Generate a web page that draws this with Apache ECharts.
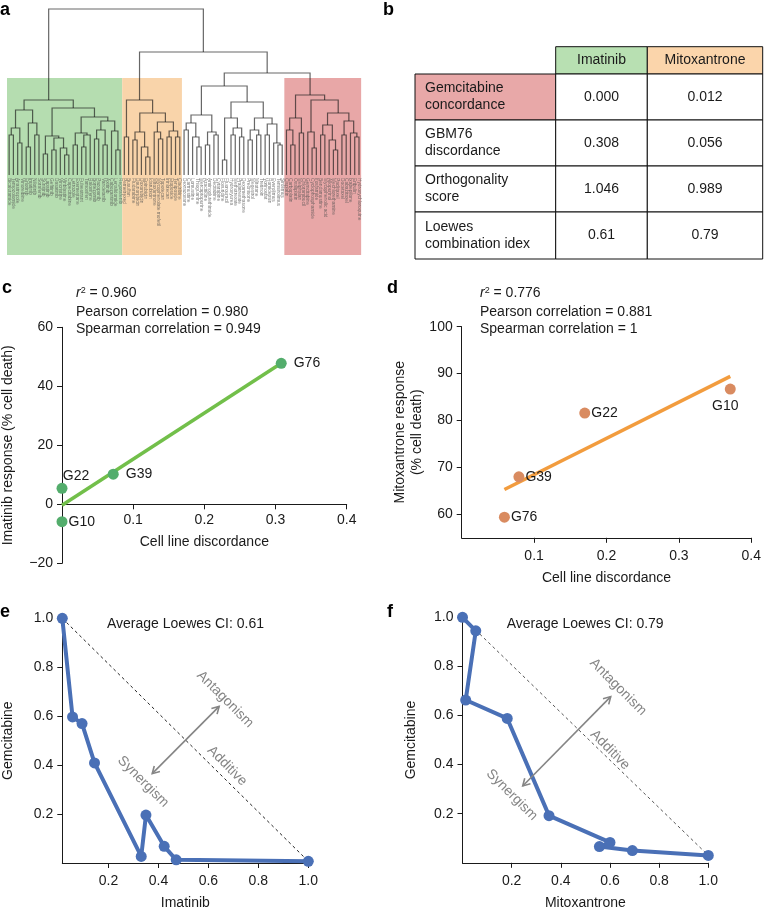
<!DOCTYPE html>
<html><head><meta charset="utf-8">
<script src="https://cdn.jsdelivr.net/npm/echarts@6/dist/echarts.min.js"></script>
<style>html,body{margin:0;padding:0;background:#fff}#main{width:764px;height:911px}</style>
</head><body><div id="main"></div>
<script>
// ================= DATA =================
// Panel a: dendrogram (node = [height, left, right], leaf = _)
const _ = null;
const clusterGreen = [75,
  [65, [47, [40,_,_], [32,_,_]], [52, [28,_,_], [40,_,_]]],
  [67, [39, [21,_,_], [37, [25,_,_], [27,_,[20,_,_]]]],
       [58, [42, [30,_,_], [40,[28,_,_],_]], [54, [45,[36,_,_],[30,_,_]], [44,_,[25,_,_]]]]]];
const clusterOrange = [75, [38,_,_], [62, [43, [35,_,_], [28,_,[18,_,_]]], [53, [43,_,[36,_,_]], [44,[38,_,_],[38,_,_]]]]];
const clusterWhite = [89,
  [60, [52, [45,_,_], [38,_,[28,_,_]]], [43, [30,_,_], [40,_,_]]],
  [73, [57, [15,_,_], [47,[40,_,_],[38,_,_]]], [57, [45,[35,_,_],[40,_,_]], [51,[40,_,_],[32,_,[30,_,_]]]]]];
const clusterRed = [80,
  [57, [45,_,[30,_,_]], [42,_,_]],
  [75, [43,_,[27,_,_]], [62, [50,[40,_,_],[35,_,[25,_,_]]], [54,[40,_,_],[42,_,[38,_,_]]]]]];
const rootHeight = 166, upperHeight = 123, middleHeight = 102;
const namesGreen = ["Bicalutamide","Temozolomide","Anastrozole","Vinorelbine","Erlotinib","Imatinib","Nilotinib","Sorafenib","Sunitinib","Lapatinib","Gefitinib","Dasatinib","Vincristine","Vinblastine","Capecitabine","Letrozole","Exemestane","Fulvestrant","Tamoxifen","Raloxifene","Bortezomib","Pazopanib","Vandetanib","Axitinib","Cabozantinib","Lenalidomide","Regorafenib"];
const namesOrange = ["Pemetrexed","Busulfan","Fludarabine","Daunorubicin","Doxorubicin","Epirubicin","Idarubicin","Mitoxantrone","Mycophenolate mofetil","Topotecan","Irinotecan","Etoposide","Teniposide","Cladribine"];
const namesWhite = ["Dexrazoxane","Carmustine","Lomustine","Thioguanine","Mercaptopurine","Azacitidine","Aminoglutethimide","Decitabine","Cytarabine","Floxuridine","Fluorouracil","Hydroxyurea","Methotrexate","Pralatrexate","Dexamethasone","Prednisone","Megestrol","Mitotane","Tretinoin","Vorinostat","Romidepsin","Everolimus","Temsirolimus","Sirolimus"];
const namesRed = ["Cisplatin","Carboplatin","Oxaliplatin","Melphalan","Chlorambucil","Gemcitabine","Cyclophosphamide","Ifosfamide","Bendamustine","Mycophenolic acid","Allopurinol","Mechlorethamine","Paclitaxel","Docetaxel","Cabazitaxel","Ixabepilone","Eribulin","Hydroxychloroquine"];

// Panel b: table
const tableCols = ["Imatinib", "Mitoxantrone"];
const tableRows = ["Gemcitabine\nconcordance", "GBM76\ndiscordance", "Orthogonality\nscore", "Loewes\ncombination idex"];
const tableVals = [["0.000","0.012"],["0.308","0.056"],["1.046","0.989"],["0.61","0.79"]];

// Panel c
const cNames = ["G76","G39","G22","G10"];
const cX = [0.308, 0.072, 0, 0];
const cY = [47.8, 10.2, 5.4, -5.9];
const cFitX = [0, 0.308];
const cFitY = [-0.3, 47.8];
const cStats = ["0.960", "0.980", "0.949"];
const cXTicks = [0.1, 0.2, 0.3, 0.4];
const cYTicks = [-20, 0, 20, 40, 60];

// Panel d
const dNames = ["G10","G22","G39","G76"];
const dX = [0.371, 0.170, 0.079, 0.059];
const dY = [86.7, 81.6, 68.0, 59.4];
const dFitX = [0.059, 0.371];
const dFitY = [65.3, 89.4];
const dStats = ["0.776", "0.881", "1"];
const dXTicks = [0.1, 0.2, 0.3, 0.4];
const dYTicks = [60, 70, 80, 90, 100];

// Panel e
const eX = [0.015, 0.056, 0.094, 0.144, 0.331, 0.350, 0.423, 0.471, 1.0];
const eY = [1.0, 0.597, 0.570, 0.409, 0.027, 0.196, 0.068, 0.013, 0.007];
const eCI = "0.61";
// Panel f
const fX = [0, 0.054, 0.013, 0.182, 0.352, 0.600, 0.557, 0.691, 1.0];
const fY = [1.0, 0.945, 0.663, 0.588, 0.192, 0.083, 0.066, 0.050, 0.030];
const fCI = "0.79";
const unitTicks = [0.2, 0.4, 0.6, 0.8, 1.0];

// annotation anchors (data coords) for e and f
const eAnno = {antagonism:[0.667,0.669], additive:[0.675,0.397], synergism:[0.339,0.332], arrowFrom:[0.375,0.365], arrowTo:[0.643,0.640]};
const fAnno = {antagonism:[0.633,0.716], additive:[0.600,0.460], synergism:[0.201,0.277], arrowFrom:[0.245,0.313], arrowTo:[0.603,0.677]};

// ================= BUILD =================
const FONT = "'Liberation Sans', Arial, Helvetica, sans-serif";
const TXT = '#1a1a1a';
const chart = echarts.init(document.getElementById('main'), null, {width:764, height:911});

// dendrogram layout
const fullTree = [rootHeight, clusterGreen, [upperHeight, clusterOrange, [middleHeight, clusterWhite, clusterRed]]];
const segs = [];
let leafIdx = 0;
function walk(n){
  if (n === null) { return {x: leafIdx++, h: 0}; }
  const l = walk(n[1]), r = walk(n[2]);
  segs.push([l.x, l.h, r.x, r.h, n[0]]);
  return {x: (l.x + r.x) / 2, h: n[0]};
}
walk(fullTree);
function countLeaves(n){ return n === null ? 1 : countLeaves(n[1]) + countLeaves(n[2]); }
const nG = countLeaves(clusterGreen), nO = countLeaves(clusterOrange), nW = countLeaves(clusterWhite), nR = countLeaves(clusterRed);
const leafNames = namesGreen.concat(namesOrange, namesWhite, namesRed);
const nLeaves = nG + nO + nW + nR;
const boxes = [
  [-0.5, nG - 0.5, '#b5ddb0'],
  [nG - 0.5, nG + nO - 0.5, '#f9d4aa'],
  [nG + nO + nW - 0.5, nLeaves - 0.5, '#e8a7a7']
];
const boxTop = 97, boxBottom = -80;

function valAxis(grid, o){
  return Object.assign({
    type:'value', gridIndex:grid, nameLocation:'middle',
    axisLine:{show:true, onZero:false, lineStyle:{color:TXT, width:1}},
    axisTick:{show:true, length:5, lineStyle:{color:TXT, width:1}},
    splitLine:{show:false},
    nameTextStyle:{color:TXT, fontSize:14, fontFamily:FONT}
  }, o);
}
const fmt1 = v => v.toFixed(1);
const fmtInt = v => v < 0 ? '\u2212' + Math.abs(v) : String(v);
function lbl(vals, formatter, margin){ return {color:TXT, fontSize:14, fontFamily:FONT, margin:margin, customValues:vals, formatter:formatter}; }
function tck(vals){ return {show:true, length:5, lineStyle:{color:TXT, width:1}, customValues:vals}; }

// c: x axis drawn at y = 0 -> offset from grid bottom computed through the y scale
const cGridH = 236;
const cZeroOffset = -cGridH * (0 - cYTicks[0]) / (cYTicks[cYTicks.length-1] - cYTicks[0]);

const xAxes = [
  {type:'value', gridIndex:0, min:-0.5, max:nLeaves - 1, show:false},
  valAxis(1, {min:0, max:0.4, offset:cZeroOffset, axisLabel:lbl(cXTicks, fmt1, 9), axisTick:tck(cXTicks), name:'Cell line discordance', nameGap:31}),
  valAxis(2, {min:0, max:0.4, axisLabel:lbl(dXTicks, fmt1, 11), axisTick:tck(dXTicks), name:'Cell line discordance', nameGap:33}),
  valAxis(3, {min:0.015, max:1.0, axisLabel:lbl(unitTicks, fmt1, 11), axisTick:tck(unitTicks), name:'Imatinib', nameGap:33}),
  valAxis(4, {min:0, max:1.0, axisLabel:lbl(unitTicks, fmt1, 11), axisTick:tck(unitTicks), name:'Mitoxantrone', nameGap:33})
];
const yAxes = [
  {type:'value', gridIndex:0, min:boxBottom, max:rootHeight, show:false},
  valAxis(1, {min:-20, max:60, axisLabel:lbl(cYTicks, fmtInt, 9), axisTick:tck(cYTicks), name:'Imatinib response (% cell death)', nameGap:47}),
  valAxis(2, {min:55, max:100, axisLabel:lbl(dYTicks, fmtInt, 9), axisTick:tck(dYTicks), name:'Mitoxantrone response\n(% cell death)', nameGap:30, nameTextStyle:{color:TXT,fontSize:14,fontFamily:FONT,lineHeight:17}}),
  valAxis(3, {min:0, max:1.0, axisLabel:lbl(unitTicks, fmt1, 9), axisTick:tck(unitTicks), name:'Gemcitabine', nameGap:47}),
  valAxis(4, {min:0, max:1.0, axisLabel:lbl(unitTicks, fmt1, 9), axisTick:tck(unitTicks), name:'Gemcitabine', nameGap:44})
];

const pointLabelStyle = {
  c: {G76:{position:'right',distance:7}, G39:{position:'right',distance:7}, G22:{position:'top',distance:0,offset:[14,0]}, G10:{position:'right',distance:1}},
  d: {G10:{position:'bottom',distance:5,offset:[-5,0]}, G22:{position:'right',distance:1}, G39:{position:'right',distance:1}, G76:{position:'right',distance:1}}
};
function pts(names, xs, ys, styles){
  return names.map((n,i) => ({value:[xs[i], ys[i]], name:n,
    label:Object.assign({show:true, formatter:n, color:TXT, fontSize:14, fontFamily:FONT}, styles[n])}));
}
const zip = (xs, ys) => xs.map((x,i) => [x, ys[i]]);

const series = [
  {type:'custom', xAxisIndex:0, yAxisIndex:0, silent:true, z:1, data: boxes.map(b => [b[0], b[1]]),
   renderItem(params, api){
     const a = api.coord([api.value(0), boxTop]), b = api.coord([api.value(1), boxBottom]);
     return {type:'rect', shape:{x:a[0], y:a[1], width:b[0]-a[0], height:b[1]-a[1]}, style:{fill:boxes[params.dataIndex][2]}};
   }},
  {type:'custom', xAxisIndex:0, yAxisIndex:0, silent:true, z:3, data: segs,
   renderItem(params, api){
     const xl = api.value(0), hl = api.value(1), xr = api.value(2), hr = api.value(3), h = api.value(4);
     return {type:'polyline', shape:{points:[api.coord([xl,hl]), api.coord([xl,h]), api.coord([xr,h]), api.coord([xr,hr])]},
       style:{stroke:'rgba(25,25,25,0.66)', lineWidth:1.2, fill:null}};
   }},
  {type:'custom', xAxisIndex:0, yAxisIndex:0, silent:true, z:3, data: leafNames.map((n,i) => [i, -3]),
   renderItem(params, api){
     const p = api.coord([api.value(0), api.value(1)]);
     return {type:'text', x:p[0], y:p[1], rotation:-Math.PI/2,
       style:{text:leafNames[params.dataIndex], fontSize:4.8, fontFamily:FONT, fill:'rgba(80,80,80,0.75)', align:'left', verticalAlign:'middle'}};
   }},
  // c
  {type:'line', xAxisIndex:1, yAxisIndex:1, data:zip(cFitX, cFitY), symbol:'none', lineStyle:{color:'#72bf4a', width:3.5}, z:2},
  {type:'scatter', xAxisIndex:1, yAxisIndex:1, data:pts(cNames, cX, cY, pointLabelStyle.c), symbolSize:11, itemStyle:{color:'#53ad6c', opacity:1}, z:3},
  // d
  {type:'line', xAxisIndex:2, yAxisIndex:2, data:zip(dFitX, dFitY), symbol:'none', lineStyle:{color:'#f29c3e', width:3.5}, z:2},
  {type:'scatter', xAxisIndex:2, yAxisIndex:2, data:pts(dNames, dX, dY, pointLabelStyle.d), symbolSize:11, itemStyle:{color:'#d98b60', opacity:1}, z:3},
  // e
  {type:'line', xAxisIndex:3, yAxisIndex:3, data:[[eX[0], eY[0]], [eX[eX.length-1], eY[eY.length-1]]], symbol:'none', lineStyle:{color:'#222', width:1, type:[3,3]}, z:1},
  {type:'line', xAxisIndex:3, yAxisIndex:3, data:zip(eX, eY), symbol:'circle', symbolSize:11, showAllSymbol:true,
   lineStyle:{color:'#4a70b6', width:4}, itemStyle:{color:'#4a70b6'}, z:2},
  // f
  {type:'line', xAxisIndex:4, yAxisIndex:4, data:[[fX[0], fY[0]], [fX[fX.length-1], fY[fY.length-1]]], symbol:'none', lineStyle:{color:'#555', width:1, type:[3,3]}, z:1},
  {type:'line', xAxisIndex:4, yAxisIndex:4, data:zip(fX, fY), symbol:'circle', symbolSize:11, showAllSymbol:true,
   lineStyle:{color:'#4a70b6', width:4}, itemStyle:{color:'#4a70b6'}, z:2}
];

chart.setOption({
  animation:false,
  backgroundColor:'#fff',
  textStyle:{fontFamily:FONT},
  grid:[
    {left:7, top:9, width:352, height:246},
    {left:62, top:327.3, width:284.7, height:cGridH},
    {left:461.7, top:326.7, width:291, height:211.1},
    {left:62.3, top:618.3, width:246, height:246},
    {left:462.5, top:617.3, width:245.8, height:245.5}
  ],
  xAxis:xAxes, yAxis:yAxes, series:series
});

// ---------- graphics (table, texts, annotations) ----------
const G = [];
function text(x, y, s, o){ G.push({type:'text', x:x, y:y, silent:true, z:10, style:Object.assign({text:s, fontSize:14, fontFamily:FONT, fill:TXT, align:'left', verticalAlign:'middle'}, o||{})}); }
// panel letters
[['a',0,10],['b',383,10],['c',2,288],['d',387,288],['e',0,612],['f',387,612]].forEach(p => text(p[1], p[2], p[0], {fontSize:18, fontWeight:'bold', fill:'#000'}));

// table
const colEdges = [415, 555.7, 647.3, 762.7];
const rowEdges = [46.7, 74, 120, 166, 212, 259];
const headFill = ['#b8e0b2', '#fbd5ab'];
const labelFill = ['#e8a8a8', null, null, null];
tableCols.forEach((c, j) => {
  G.push({type:'rect', silent:true, z:5, shape:{x:colEdges[j+1], y:rowEdges[0], width:colEdges[j+2]-colEdges[j+1], height:rowEdges[1]-rowEdges[0]}, style:{fill:headFill[j], stroke:'#111', lineWidth:1}});
  text((colEdges[j+1]+colEdges[j+2])/2, (rowEdges[0]+rowEdges[1])/2, c, {align:'center'});
});
tableRows.forEach((r, i) => {
  const y0 = rowEdges[i+1], y1 = rowEdges[i+2];
  G.push({type:'rect', silent:true, z:5, shape:{x:colEdges[0], y:y0, width:colEdges[1]-colEdges[0], height:y1-y0}, style:{fill:labelFill[i] || '#fff', stroke:'#111', lineWidth:1}});
  text(colEdges[0] + 10, (y0+y1)/2, r, {lineHeight:17});
  tableVals[i].forEach((v, j) => {
    G.push({type:'rect', silent:true, z:5, shape:{x:colEdges[j+1], y:y0, width:colEdges[j+2]-colEdges[j+1], height:y1-y0}, style:{fill:'#fff', stroke:'#111', lineWidth:1}});
    text((colEdges[j+1]+colEdges[j+2])/2, (y0+y1)/2, v, {align:'center'});
  });
});

// stats texts
const rich = {i:{fontStyle:'italic', fontSize:14, fontFamily:FONT, fill:TXT}, s:{fontSize:9, fontFamily:FONT, fill:TXT, verticalAlign:'top', lineHeight:14}, n:{fontSize:14, fontFamily:FONT, fill:TXT}};
function stats(x, vals){
  G.push({type:'text', x:x, y:293.3, z:10, silent:true, style:{text:'{i|r}{s|2}{n| = ' + vals[0] + '}', rich:rich, verticalAlign:'middle', align:'left'}});
  text(x, 311.7, 'Pearson correlation = ' + vals[1]);
  text(x, 329.3, 'Spearman correlation = ' + vals[2]);
}
stats(76, cStats);
stats(480, dStats);
text(107, 624, 'Average Loewes CI: ' + eCI);
text(506.7, 624, 'Average Loewes CI: ' + fCI);

// annotations for e and f
function annotate(gridIndex, A){
  const P = v => chart.convertToPixel({gridIndex:gridIndex}, v);
  const grey = '#858585';
  [['Antagonism', A.antagonism], ['Additive', A.additive], ['Synergism', A.synergism]].forEach(t => {
    const p = P(t[1]);
    G.push({type:'text', x:p[0], y:p[1], rotation:-Math.PI/4, z:10, silent:true, style:{text:t[0], fontSize:14, fontFamily:FONT, fill:grey, align:'center', verticalAlign:'middle'}});
  });
  const a = P(A.arrowFrom), b = P(A.arrowTo);
  G.push({type:'line', z:10, silent:true, shape:{x1:a[0], y1:a[1], x2:b[0], y2:b[1]}, style:{stroke:grey, lineWidth:1.6}});
  const ang = Math.atan2(b[1]-a[1], b[0]-a[0]);
  const L = 8, w = Math.PI/6;
  [[b, ang + Math.PI], [a, ang]].forEach(h => {
    const p = h[0], t = h[1];
    G.push({type:'polyline', z:10, silent:true, shape:{points:[[p[0]+L*Math.cos(t+w), p[1]+L*Math.sin(t+w)], p, [p[0]+L*Math.cos(t-w), p[1]+L*Math.sin(t-w)]]}, style:{stroke:grey, lineWidth:1.6, fill:null}});
  });
}
annotate(3, eAnno);
annotate(4, fAnno);

chart.setOption({graphic:G});
</script></body></html>
